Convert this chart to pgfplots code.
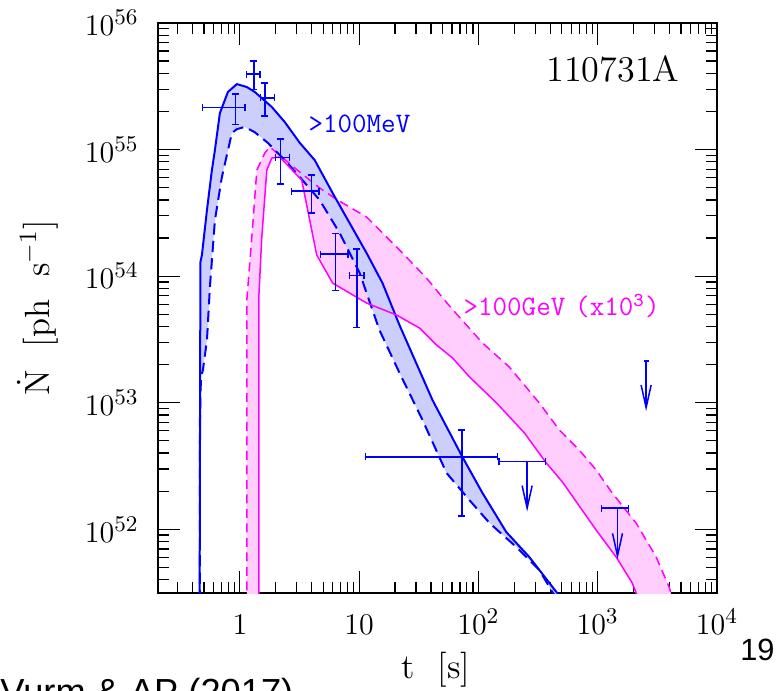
\documentclass[border=0pt]{standalone}
\usepackage{fontspec}
\usepackage{pgfplots}
\pgfplotsset{compat=1.18}
\usepackage{pgfplotstable}
\usepgfplotslibrary{fillbetween}
\usetikzlibrary{arrows.meta}
\newfontfamily\arialf{Liberation Sans}
\definecolor{bfill}{RGB}{204,206,252}
\definecolor{mfill}{RGB}{255,206,252}
\definecolor{mag}{RGB}{255,0,255}
\definecolor{blu}{RGB}{0,0,255}

\pgfplotstableread{
t N
0.458 4e50
0.467 1.29e54
0.481 1.47e54
0.530 3.33e54
0.583 6.89e54
0.618 9.9e54
0.680 1.94e55
0.794 2.85e55
0.944 3.29e55
1.144 3.12e55
1.335 2.85e55
1.853 2.17e55
2.38 1.65e55
3.18 1.13e55
4.24 8.26e54
6.0 4.53e54
8.33 2.62e54
11.56 1.52e54
15.7 8.81e53
21.8 4.1e53
41.2 1.05e53
73.5 3.72e52
108 1.94e52
171 9.53e51
267 6.04e51
450 3.2e51
525 2.7e51
}\bsol

\pgfplotstableread{
t N
0.463 4e50
0.463 7.3e52
0.472 1.6e53
0.490 1.81e53
0.530 3.13e53
0.561 8.2e53
0.618 2.77e54
0.707 6.07e54
0.857 1.35e55
0.944 1.45e55
1.10 1.51e55
1.335 1.37e55
1.715 1.13e55
2.38 8.26e54
3.18 6.07e54
4.67 3.99e54
6.87 2.19e54
10.1 1.06e54
14.8 3.75e53
21.8 1.72e53
34.0 7.3e52
54.0 2.79e52
84.1 1.70e52
124 1.12e52
208 7.24e51
324 4.77e51
416 3.2e51
476 2.7e51
}\bdash

\pgfplotstableread{
t N
1.442 4e50
1.442 6.84e53
1.528 2.04e54
1.683 6.89e54
1.853 8.57e54
2.16 8.73e54
3.30 5.74e54
4.41 1.47e54
6.0 8.81e53
11.56 6.13e53
20.6 4.93e53
32.1 3.89e53
44.5 2.86e53
60.6 2.26e53
84.1 1.60e53
142 9.95e52
243 5.77e52
371 3.34e52
505 2.37e52
971 9.86e51
1428 6.04e51
1945 3.77e51
2224 2.75e51
}\msol

\pgfplotstableread{
t N
1.144 4e50
1.144 6.47e53
1.26 2.04e54
1.388 6.89e54
1.618 9.38e54
1.782 1.05e55
3.18 6.64e54
4.67 4.97e54
6.61 3.99e54
11.56 2.93e54
21.8 1.61e54
36.7 9.66e53
57.2 5.81e53
108 2.97e53
182 1.91e53
324 9.95e52
476 6.1e52
700 4.23e52
971 2.94e52
1322 1.94e52
2100 1.12e52
3090 6.04e51
3966 3.5e51
4285 2.75e51
}\mdash

\pgfplotsset{
  eb/.style={blu, line width=0.6pt, mark=none, {Bar[width=2.8pt]}-{Bar[width=2.8pt]}},
  ul/.style={blu, line width=0.6pt, mark=none, -{Straight Barb[length=9pt,width=4pt]}},
}

\begin{document}
\begin{tikzpicture}
\begin{axis}[
  at={(63.2pt,38.8pt)}, anchor=south west,
  scale only axis, width=223.6pt, height=228pt,
  xmode=log, ymode=log,
  xmin=0.206, xmax=1e4, ymin=3.14e51, ymax=1e56,
  xtick={1,10,100,1000,10000},
  xticklabels={$1$,$10$,$10^2$,$10^3$,$10^4$},
  ytick={1e52,1e53,1e54,1e55,1e56},
  minor xtick={0.3,0.4,0.5,0.6,0.7,0.8,0.9,2,3,4,5,6,7,8,9,20,30,40,50,60,70,80,90,200,300,400,500,600,700,800,900,2000,3000,4000,5000,6000,7000,8000,9000},
  minor ytick={4e51,5e51,6e51,7e51,8e51,9e51,2e52,3e52,4e52,5e52,6e52,7e52,8e52,9e52,2e53,3e53,4e53,5e53,6e53,7e53,8e53,9e53,2e54,3e54,4e54,5e54,6e54,7e54,8e54,9e54,2e55,3e55,4e55,5e55,6e55,7e55,8e55,9e55},
  major tick length=8.7pt, minor tick length=4.4pt,
  tick style={black, line width=0.5pt},
  axis line style={line width=0.8pt},
  xtick pos=both, ytick pos=both,
  xticklabel pos=lower, yticklabel pos=left,
  ticklabel style={font=\fontsize{12.5}{14}\selectfont},
  xticklabel style={anchor=base, yshift=-16.4pt},
  yticklabel style={xshift=-4.2pt},
]
% invisible paths
\addplot[draw=none, name path=BS] table[x=t,y=N] {\bsol};
\addplot[draw=none, name path=BD] table[x=t,y=N] {\bdash};
\addplot[draw=none, name path=MS] table[x=t,y=N] {\msol};
\addplot[draw=none, name path=MD] table[x=t,y=N] {\mdash};
% pink band
\addplot[mfill, draw=none] fill between[of=MS and MD];
\addplot[mag, line width=0.6pt, dash pattern=on 3.6pt off 2.2pt, mark=none] table[x=t,y=N] {\mdash};
% blue band
\addplot[bfill, draw=none] fill between[of=BS and BD];
\addplot[blu, line width=0.8pt, dash pattern=on 4.5pt off 2.5pt, mark=none] table[x=t,y=N] {\bdash};
\addplot[blu, line width=0.8pt, mark=none] table[x=t,y=N] {\bsol};
\addplot[mag, line width=0.6pt, mark=none] table[x=t,y=N] {\msol};
% data points
\addplot[eb] coordinates {(0.478,2.15e55) (1.122,2.15e55)};
\addplot[eb] coordinates {(0.920,1.56e55) (0.920,2.78e55)};
\addplot[eb] coordinates {(1.116,3.95e55) (1.50,3.95e55)};
\addplot[eb] coordinates {(1.31,2.95e55) (1.31,5.09e55)};
\addplot[eb] coordinates {(1.47,2.56e55) (1.99,2.56e55)};
\addplot[eb] coordinates {(1.62,1.82e55) (1.62,3.40e55)};
\addplot[eb] coordinates {(1.96,8.67e54) (2.64,8.67e54)};
\addplot[eb] coordinates {(2.19,5.25e54) (2.19,1.23e55)};
\addplot[eb] coordinates {(2.67,4.70e54) (4.67,4.70e54)};
\addplot[eb] coordinates {(3.98,3.10e54) (3.98,6.37e54)};
\addplot[eb] coordinates {(4.67,1.49e54) (8.22,1.49e54)};
\addplot[eb] coordinates {(6.36,7.62e53) (6.36,2.20e54)};
\addplot[eb] coordinates {(8.22,1.01e54) (11.1,1.01e54)};
\addplot[eb] coordinates {(9.59,3.87e53) (9.59,1.66e54)};
\addplot[eb] coordinates {(11.1,3.74e52) (147,3.74e52)};
\addplot[eb] coordinates {(72.5,1.26e52) (72.5,6.17e52)};
% upper limits
\addplot[eb] coordinates {(147,3.42e52) (369,3.42e52)};
\addplot[ul] coordinates {(256,3.42e52) (256,1.38e52)};
\addplot[eb] coordinates {(1064,1.47e52) (1835,1.47e52)};
\addplot[ul] coordinates {(1465,1.47e52) (1465,5.8e51)};
\addplot[blu, line width=0.6pt, mark=none] coordinates {(2427,2.13e53) (2673,2.13e53)};
\addplot[ul] coordinates {(2546,2.13e53) (2546,8.6e52)};
\end{axis}
\node[anchor=base east, inner sep=0pt, font=\fontsize{14.5}{16}\selectfont] at (272pt,243.2pt) {110731A};
\node[anchor=base west, inner sep=0pt, blu, font=\ttfamily\fontsize{11.3}{13}\selectfont] at (123.2pt,222.8pt) {>100MeV};
\node[anchor=base west, inner sep=0pt, mag, font=\ttfamily\fontsize{11.3}{13}\selectfont] at (185.2pt,149.6pt) {>100GeV\hspace{0.35em}(x10\textsuperscript{3})};
\node[rotate=90, anchor=center, font=\fontsize{14}{16}\selectfont] at (15pt,152.8pt) {$\dot{\mathrm{N}}$\ \ [ph\ \ s$^{-1}$]};
\node[anchor=base, inner sep=0pt, font=\fontsize{14}{16}\selectfont] at (174.4pt,4.8pt) {t\ \ [s]};
\node[anchor=base east, inner sep=0pt, font=\arialf\fontsize{12.3}{14}\selectfont] at (310pt,12pt) {19};
\node[anchor=base west, inner sep=0pt, font=\arialf\fontsize{14.5}{16}\selectfont] at (0pt,-5.6pt) {Vurm \& AP (2017)};
\pgfresetboundingbox
\useasboundingbox (0,0) rectangle (310.4pt,276pt);
\end{tikzpicture}
\end{document}
